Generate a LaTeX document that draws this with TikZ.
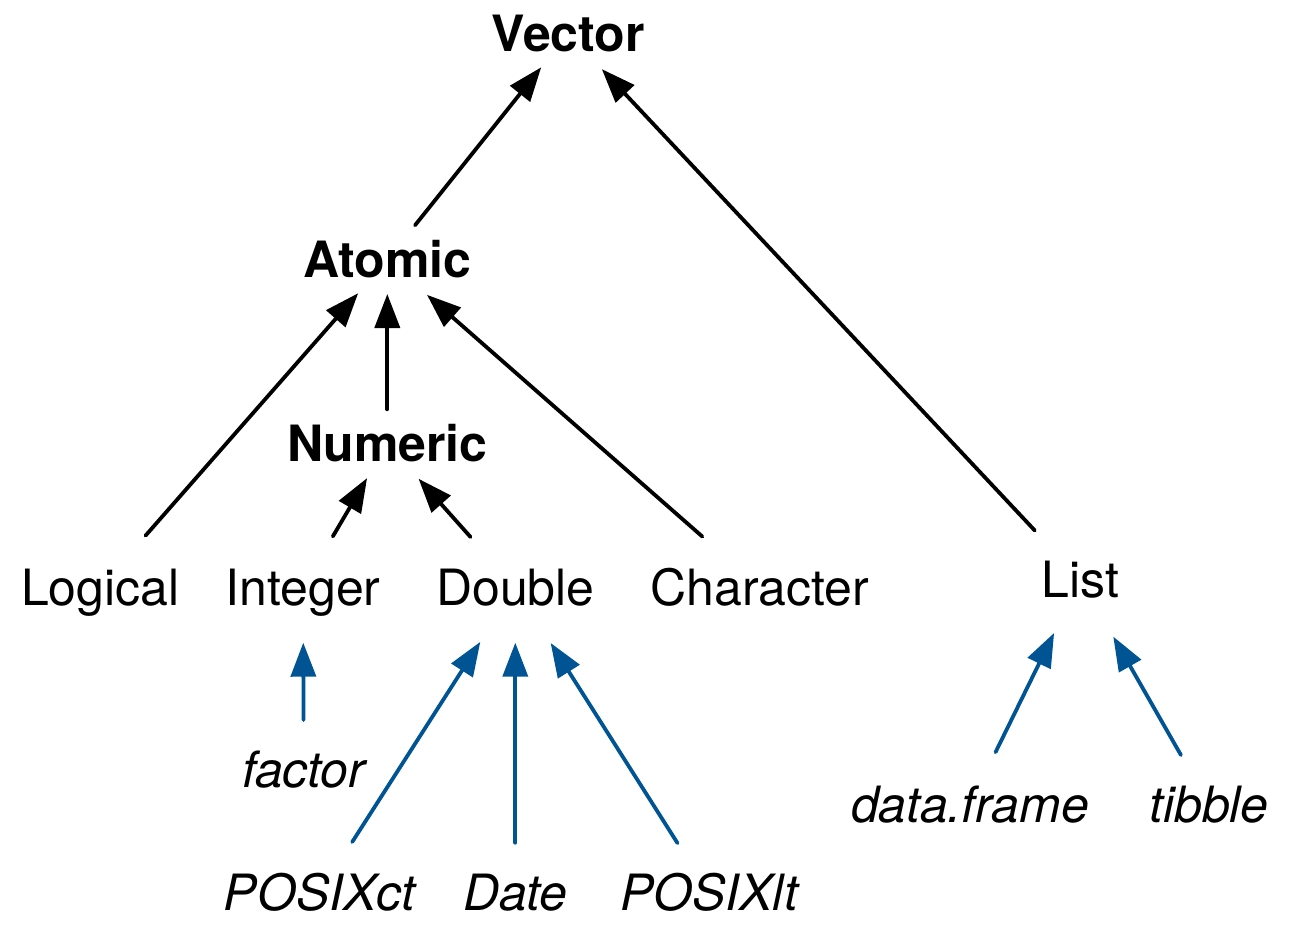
\documentclass[tikz,border=0pt]{standalone}
\usepackage{fontspec}
\setmainfont{TeX Gyre Heros}
\usetikzlibrary{arrows.meta}
\definecolor{ocean}{HTML}{005493}
\tikzset{
  lbl/.style={inner sep=0pt, text height=36pt, text depth=0pt, anchor=center,
              font=\fontsize{50}{60}\selectfont},
  bold/.style={lbl, font=\fontsize{50}{60}\selectfont\bfseries},
  ital/.style={lbl, font=\fontsize{50}{60}\selectfont\itshape},
  conn/.style={line width=3.8pt, line cap=round, -{Triangle[length=34pt,width=25pt]}},
  bconn/.style={conn, draw=ocean, fill=ocean},
}
\begin{document}
\begin{tikzpicture}[x=1pt, y=-1pt]
\useasboundingbox (0,0) rectangle (1299,944);
% nodes
\node[bold] (vector) at (568.3,33.4) {Vector};
\node[bold] (atomic) at (387.3,260) {Atomic};
\node[bold] (numeric) at (387.3,443.7) {Numeric};
\node[lbl] (logical) at (100.3,587.2) {Logical};
\node[lbl] (integer) at (303,587.2) {Integer};
\node[lbl] (double) at (515.3,587.2) {Double};
\node[lbl] (character) at (760,587.2) {Character};
\node[lbl] (list) at (1080.5,579.2) {List};
\node[ital] (factor) at (303.8,769.5) {factor};
\node[ital] (posixct) at (319.7,892.8) {POSIXct};
\node[ital] (date) at (515.3,892.8) {Date};
\node[ital] (posixlt) at (709,892.8) {POSIXlt};
\node[ital] (dataframe) at (970,804.2) {data.frame};
\node[ital] (tibble) at (1209,804.2) {tibble};
% black connectors
\draw[conn, shorten <=44.4pt, shorten >=43.4pt] (atomic.center) -- (vector.center);
\draw[conn, shorten <=66.8pt, shorten >=49pt] (list.center) -- (vector.center);
\draw[conn, shorten <=68.6pt, shorten >=44.2pt] (logical.center) -- (atomic.center);
\draw[conn, shorten <=34.4pt, shorten >=34pt] (numeric.center) -- (atomic.center);
\draw[conn, shorten <=76.7pt, shorten >=52.8pt] (character.center) -- (atomic.center);
\draw[conn, shorten <=58.9pt, shorten >=39.9pt] (integer.center) -- (numeric.center);
\draw[conn, shorten <=67.2pt, shorten >=47pt] (double.center) -- (numeric.center);
% blue connectors
\draw[bconn, shorten <=49.5pt, shorten >=55.5pt] (factor.center) -- (integer.center);
\draw[bconn, shorten <=60.3pt, shorten >=64.9pt] (posixct.center) -- (double.center);
\draw[bconn, shorten <=50.1pt, shorten >=55.5pt] (date.center) -- (double.center);
\draw[bconn, shorten <=58.8pt, shorten >=66pt] (posixlt.center) -- (double.center);
\draw[bconn, shorten <=57.9pt, shorten >=59.9pt] (dataframe.center) -- (list.center);
\draw[bconn, shorten <=56.6pt, shorten >=66.1pt] (tibble.center) -- (list.center);
\end{tikzpicture}
\end{document}
